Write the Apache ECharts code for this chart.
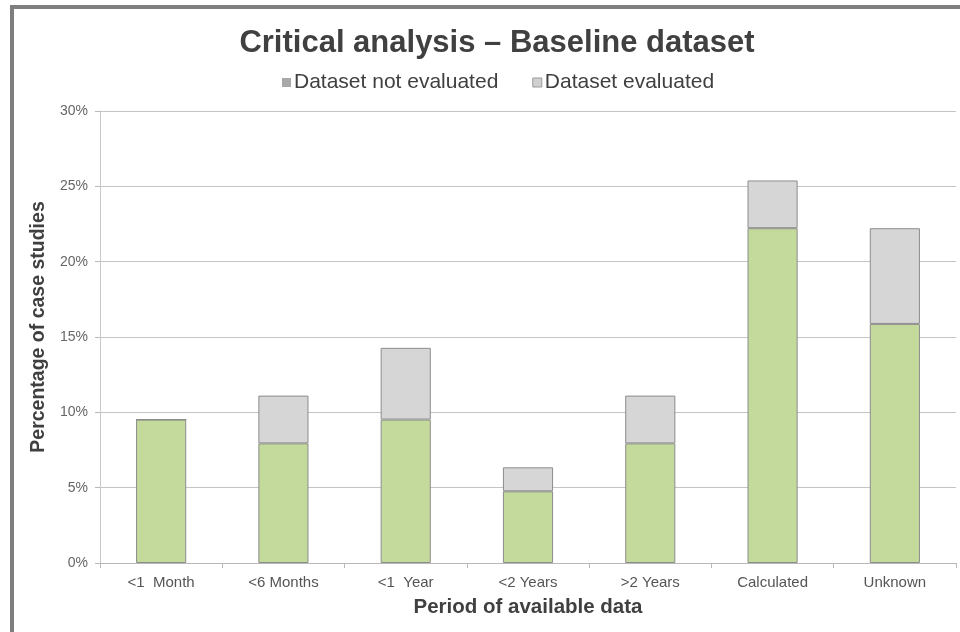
<!DOCTYPE html>
<html>
<head>
<meta charset="utf-8">
<script src="https://cdn.jsdelivr.net/npm/echarts@6/dist/echarts.min.js"></script>
<style>
  html, body { margin: 0; padding: 0; background: #fff; }
  #chart { width: 960px; height: 632px; }
</style>
</head>
<body>
<div id="chart"></div>
<script>
// Period categories on the x axis
const categories = ['<1  Month', '<6 Months', '<1  Year', '<2 Years', '>2 Years', 'Calculated', 'Unknown'];
// Share of case studies (%) whose dataset was evaluated
const evaluated = [9.52, 7.94, 9.52, 4.76, 7.94, 22.22, 15.87];
// Share of case studies (%) whose dataset was not evaluated (stacked on top)
const notEvaluated = [0, 3.17, 4.76, 1.59, 3.17, 3.17, 6.35];
// Y axis ticks
const yTicks = [0, 5, 10, 15, 20, 25, 30];

const chart = echarts.init(document.getElementById('chart'));

const textColor = '#404040';
const font = 'Liberation Sans, Arial, sans-serif';

chart.setOption({
  backgroundColor: '#ffffff',
  animation: false,
  title: {
    text: 'Critical analysis \u2013 Baseline dataset',
    left: 492,
    top: 23,
    textAlign: 'center',
    textStyle: {
      fontFamily: font,
      fontSize: 31,
      fontWeight: 'bold',
      color: textColor
    }
  },
  legend: {
    top: 67,
    left: 277,
    itemWidth: 9,
    itemHeight: 9,
    itemGap: 34,
    icon: 'rect',
    textStyle: {
      fontFamily: font,
      fontSize: 21,
      color: textColor,
      padding: [0, 0, 0, -2]
    },
    data: [
      { name: 'Dataset not evaluated', itemStyle: { color: '#a8a8a8', borderColor: '#a8a8a8', borderWidth: 0 } },
      { name: 'Dataset evaluated', itemStyle: { color: '#d0d0d0', borderColor: '#9a9a9a', borderWidth: 1 } }
    ]
  },
  grid: {
    left: 100,
    right: 4,
    top: 111,
    bottom: 69,
    containLabel: false
  },
  xAxis: {
    type: 'category',
    data: categories,
    name: 'Period of available data',
    nameLocation: 'middle',
    nameGap: 34,
    nameTextStyle: {
      fontFamily: font,
      fontSize: 20.5,
      fontWeight: 'bold',
      color: textColor
    },
    axisLine: { lineStyle: { color: '#b8b8b8', width: 1 } },
    axisTick: { show: true, length: 5, lineStyle: { color: '#b8b8b8' } },
    axisLabel: {
      fontFamily: font,
      fontSize: 15,
      color: '#555555',
      margin: 12
    }
  },
  yAxis: {
    type: 'value',
    min: 0,
    max: 30,
    interval: 5,
    name: 'Percentage of case studies',
    nameLocation: 'middle',
    nameGap: 47,
    nameTextStyle: {
      fontFamily: font,
      fontSize: 19.5,
      fontWeight: 'bold',
      color: textColor,
      padding: [0, 0, 0, 20]
    },
    axisLine: { show: true, lineStyle: { color: '#c8c8c8', width: 1 } },
    axisTick: { show: true, length: 5, inside: false, lineStyle: { color: '#b8b8b8' } },
    axisLabel: {
      fontFamily: font,
      fontSize: 14,
      color: '#666666',
      margin: 12,
      formatter: function (v) { return yTicks.indexOf(v) >= 0 ? v + '%' : ''; }
    },
    splitLine: { show: true, lineStyle: { color: '#c4c4c4', width: 1 } }
  },
  series: [
    {
      name: 'Dataset evaluated',
      type: 'bar',
      stack: 'total',
      barWidth: '41%',
      data: evaluated,
      itemStyle: { color: '#c4da9c', borderColor: '#8c8c8c', borderWidth: 1 }
    },
    {
      name: 'Dataset not evaluated',
      type: 'bar',
      stack: 'total',
      barWidth: '41%',
      data: notEvaluated,
      itemStyle: { color: '#d6d6d6', borderColor: '#8c8c8c', borderWidth: 1 }
    }
  ],
  graphic: [
    // frame around the chart area (left and top edges)
    { type: 'rect', shape: { x: 10, y: 5, width: 4, height: 627 }, style: { fill: '#7f7f7f' }, silent: true },
    { type: 'rect', shape: { x: 10, y: 5, width: 950, height: 4 }, style: { fill: '#7f7f7f' }, silent: true }
  ]
});
</script>
</body>
</html>
